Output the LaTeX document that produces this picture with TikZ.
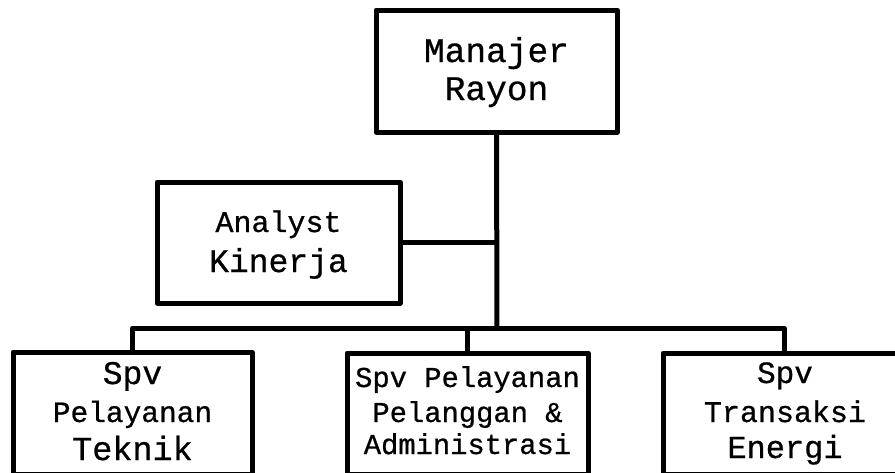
\documentclass[tikz,border=0pt]{standalone}
\usepackage{fontspec}
\newfontfamily\mymono{Liberation Mono}[FakeBold=0.7]
\newcommand{\fs}[1]{\fontsize{#1}{#1}\selectfont\mymono}
\begin{document}
\begin{tikzpicture}[x=1pt,y=-1pt,
  box/.style={draw=black,line width=5pt,line join=round,inner sep=0pt,fill=white},
  conn/.style={draw=black,line width=5pt,line join=round},
  txt/.style={anchor=base,inner sep=0pt}]
\useasboundingbox (0,0) rectangle (895,472);
\clip (0,0) rectangle (895,472);
\fill[white] (0,0) rectangle (895,472);
% boxes
\node[box,minimum width=241pt,minimum height=122pt] (mr) at (496.5,71) {};
\node[box,minimum width=243pt,minimum height=121pt] (ak) at (278.5,242.5) {};
\node[box,minimum width=239pt,minimum height=122pt] (tek) at (132.5,413) {};
\node[box,minimum width=241pt,minimum height=121pt] (ppa) at (467.5,413.5) {};
\node[box,minimum width=242pt,minimum height=121pt] (te) at (784,413.5) {};
% bus
\coordinate (busL) at (132.5,328);
\coordinate (busR) at (784,328);
\coordinate (busM) at (497,328);
\draw[conn] (mr.south) -- (busM);
\draw[conn] (ak.east) -- (ak.east -| busM);
\draw[conn] (tek.north) -- (busL) -- (busR) -- (te.north);
\draw[conn] (ppa.north) -- (ppa.north |- busL);
% texts
\node[txt,font=\fs{34.5}] (t1) at (496.5,62) {Manajer};
\node[txt,font=\fs{34.5}] (t2) at (496.5,100) {Rayon};
\node[txt,font=\fs{30}] (t3) at (278.5,232) {Analyst};
\node[txt,font=\fs{33}] (t4) at (278.5,272) {Kinerja};
\node[txt,font=\fs{33}] (t5) at (132.5,384) {Spv};
\node[txt,font=\fs{29.5}] (t6) at (132.5,422) {Pelayanan};
\node[txt,font=\fs{33.5}] (t7) at (132.5,460) {Teknik};
\node[txt,font=\fs{28.8}] (t8) at (467.5,387) {Spv Pelayanan};
\node[txt,font=\fs{28.8}] (t9) at (467.5,422) {Pelanggan \&};
\node[txt,font=\fs{28.8}] (t10) at (467.5,454) {Administrasi};
\node[txt,font=\fs{31}] (t11) at (785,383) {Spv};
\node[txt,font=\fs{30}] (t12) at (785,422) {Transaksi};
\node[txt,font=\fs{32}] (t13) at (785,458) {Energi};
\end{tikzpicture}
\end{document}
